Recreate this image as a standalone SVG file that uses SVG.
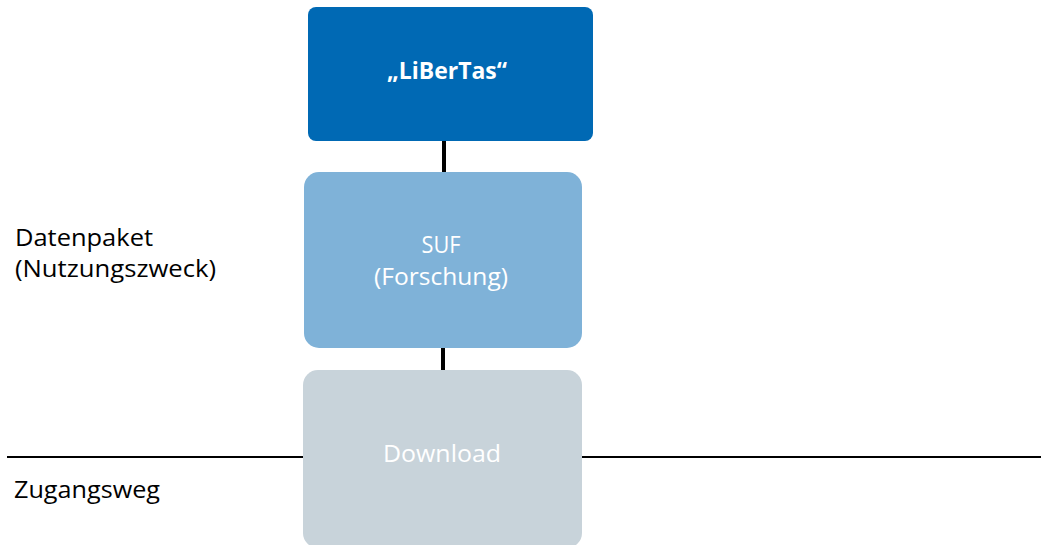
<svg xmlns="http://www.w3.org/2000/svg" width="1041" height="545" viewBox="0 0 1041 545">
<style>
.lbl{font-family:"Open Sans","Noto Sans",sans-serif;font-size:23px;fill:#000}
.nt{font-family:"Open Sans","Noto Sans",sans-serif;font-size:23px;fill:#ffffff;text-anchor:middle}
.conn{stroke:#000;stroke-width:4;fill:none}
</style>
<rect width="1041" height="545" fill="#fff"/>
<g id="connectors">
<line x1="7" y1="457" x2="1041" y2="457" stroke="#000" stroke-width="2"/>
<line class="conn" x1="444" y1="140" x2="444" y2="174"/>
<line class="conn" x1="443" y1="346" x2="443" y2="372"/>
</g>
<g id="libertas">
<rect x="308" y="7" width="285" height="134" rx="8" fill="#0069b4"/>
<text class="nt" x="447" y="79" font-weight="bold" textLength="120" lengthAdjust="spacingAndGlyphs">„LiBerTas“</text>
</g>
<g id="suf">
<rect x="304" y="172" width="278" height="176" rx="15" fill="#7fb2d8"/>
<text class="nt" x="441" y="253" textLength="39" lengthAdjust="spacingAndGlyphs">SUF</text>
<text class="nt" x="441" y="285" textLength="134" lengthAdjust="spacingAndGlyphs">(Forschung)</text>
</g>
<g id="download">
<rect x="303" y="370" width="279" height="178" rx="15" fill="#c8d3da"/>
<text class="nt" x="442" y="462" fill="#f2f5f7" textLength="118" lengthAdjust="spacingAndGlyphs">Download</text>
</g>
<g id="labels">
<text class="lbl" x="15" y="246" textLength="138" lengthAdjust="spacingAndGlyphs">Datenpaket</text>
<text class="lbl" x="15" y="277" textLength="201" lengthAdjust="spacingAndGlyphs">(Nutzungszweck)</text>
<text class="lbl" x="14" y="498" textLength="146" lengthAdjust="spacingAndGlyphs">Zugangsweg</text>
</g>
</svg>
